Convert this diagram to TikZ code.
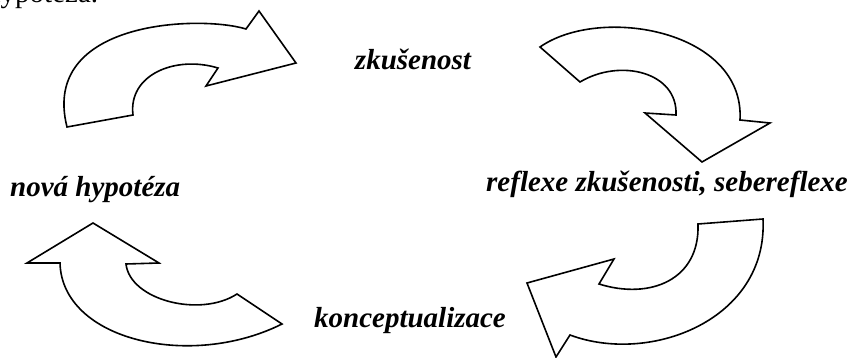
\documentclass[tikz,border=0pt]{standalone}
\usepackage{fontspec}
\setmainfont{Liberation Serif}
\begin{document}
\begin{tikzpicture}[x=1pt,y=-1pt,
 cyclearrow/.style={draw,line width=1.6pt,line join=miter,fill=white},
 stage/.style={font=\fontsize{29}{34}\selectfont\bfseries\itshape,inner sep=0pt}]
 \useasboundingbox (0,0) rectangle (860,358);

 %Previous line, cut off
 \begin{scope}
 \clip (0,0) rectangle (860,358);
 \node[anchor=base west,font=\fontsize{29}{34}\selectfont,inner sep=0pt] (prev) at (-14,3) {hypotéza.};
 \end{scope}

 %Arrows
 \draw[cyclearrow] (67,127) .. controls (40,20) and (200,15) .. (246,29) -- (259,11) -- (296,63) -- (206,86) -- (218,68) .. controls (175,55) and (128,75) .. (133,115) -- cycle;
 \draw[cyclearrow] (540,47) .. controls (600,5) and (745,30) .. (740,120) -- (770,123) -- (702,162) -- (645,113) -- (676,115) .. controls (678,72) and (620,58) .. (580,82) -- cycle;
 \draw[cyclearrow] (763,219) .. controls (768,320) and (650,365) .. (570,335) -- (556,357) -- (527,283) -- (614,259) -- (599,284) .. controls (650,300) and (700,280) .. (698,224) -- cycle;
 \draw[cyclearrow] (282,324) .. controls (190,370) and (62,340) .. (60,263) -- (27,263) -- (93,223) -- (159,263) -- (126,264) .. controls (130,300) and (200,318) .. (237,294) -- cycle;

 %Stages
 \node[stage,anchor=base] (zk) at (413,70) {zkušenost};
 \node[stage,anchor=base east] (refl) at (848,192) {reflexe zkušenosti, sebereflexe};
 \node[stage,anchor=base] (konc) at (410,327) {konceptualizace};
 \node[stage,anchor=base west] (hyp) at (10,197) {nová hypotéza};

\end{tikzpicture}
\end{document}
